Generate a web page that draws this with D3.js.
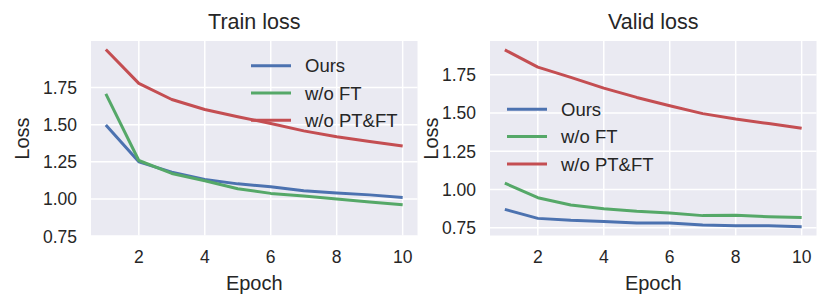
<!DOCTYPE html>
<html>
<head>
<meta charset="utf-8">
<script src="https://cdn.jsdelivr.net/npm/d3@7"></script>
<style>
  body { margin: 0; background: #fff; }
  text { font-family: "Liberation Sans", Arial, sans-serif; fill: #262626; }
</style>
</head>
<body>
<div id="chart"></div>
<script>
// data
var epochs = [1, 2, 3, 4, 5, 6, 7, 8, 9, 10];
var seriesNames = ["Ours", "w/o FT", "w/o PT&FT"];
var colors = ["#4C72B0", "#55A868", "#C44E52"];

var trainOurs = [1.497, 1.25, 1.181, 1.132, 1.102, 1.082, 1.055, 1.041, 1.028, 1.01];
var trainNoFT = [1.707, 1.259, 1.172, 1.123, 1.069, 1.038, 1.02, 1.0, 0.98, 0.962];
var trainNoPTFT = [2.005, 1.777, 1.669, 1.602, 1.553, 1.508, 1.458, 1.418, 1.387, 1.357];

var validOurs = [0.87, 0.811, 0.798, 0.791, 0.78, 0.78, 0.767, 0.763, 0.763, 0.757];
var validNoFT = [1.041, 0.946, 0.898, 0.874, 0.857, 0.846, 0.829, 0.831, 0.822, 0.816];
var validNoPTFT = [1.913, 1.80, 1.733, 1.663, 1.602, 1.548, 1.496, 1.461, 1.431, 1.40];

var xTicks = [2, 4, 6, 8, 10];
var yTicks = [0.75, 1.00, 1.25, 1.50, 1.75];

var w = 830, h = 308;
var svg = d3.select("#chart").append("svg")
  .attr("width", w).attr("height", h);

function drawPanel(opts) {
  var x = d3.scaleLinear().domain([0.55, 10.45]).range([opts.left, opts.right]);
  var y = d3.scaleLinear().domain(opts.ydom).range([opts.bottom, opts.top]);
  var g = svg.append("g");

  g.append("rect")
    .attr("x", opts.left).attr("y", opts.top)
    .attr("width", opts.right - opts.left)
    .attr("height", opts.bottom - opts.top)
    .attr("fill", "#EAEAF2");

  // grid
  g.selectAll(".gx").data(xTicks).enter().append("line")
    .attr("x1", function(d) { return x(d); }).attr("x2", function(d) { return x(d); })
    .attr("y1", opts.top).attr("y2", opts.bottom)
    .attr("stroke", "#fff").attr("stroke-width", 1.5);
  g.selectAll(".gy").data(yTicks).enter().append("line")
    .attr("x1", opts.left).attr("x2", opts.right)
    .attr("y1", function(d) { return y(d); }).attr("y2", function(d) { return y(d); })
    .attr("stroke", "#fff").attr("stroke-width", 1.5);

  // tick labels
  g.selectAll(".tx").data(xTicks).enter().append("text")
    .attr("x", function(d) { return x(d); })
    .attr("y", 262.5)
    .attr("text-anchor", "middle")
    .attr("font-size", "17.5px")
    .text(function(d) { return d; });
  g.selectAll(".ty").data(yTicks).enter().append("text")
    .attr("x", opts.left - 14)
    .attr("y", function(d) { return y(d); })
    .attr("dy", "0.36em")
    .attr("text-anchor", "end")
    .attr("font-size", "17.5px")
    .text(function(d) { return d3.format(".2f")(d); });

  // lines
  var line = d3.line()
    .x(function(d, i) { return x(epochs[i]); })
    .y(function(d) { return y(d); });
  opts.series.forEach(function(s, i) {
    g.append("path")
      .attr("d", line(s))
      .attr("fill", "none")
      .attr("stroke", colors[i])
      .attr("stroke-width", 3)
      .attr("stroke-linejoin", "round");
  });

  // labels
  var cx = (opts.left + opts.right) / 2;
  g.append("text").attr("x", cx).attr("y", 29)
    .attr("text-anchor", "middle").attr("font-size", "21.5px")
    .text(opts.title);
  g.append("text").attr("x", cx).attr("y", 290)
    .attr("text-anchor", "middle").attr("font-size", "20px")
    .text("Epoch");
  g.append("text")
    .attr("transform", "translate(" + opts.ylabelX + "," + 138.5 + ") rotate(-90)")
    .attr("text-anchor", "middle").attr("font-size", "20px")
    .text("Loss");

  // legend
  var leg = g.append("g");
  seriesNames.forEach(function(n, i) {
    var ly = opts.legY + i * 27.3;
    leg.append("line")
      .attr("x1", opts.legX).attr("x2", opts.legX + 40)
      .attr("y1", ly).attr("y2", ly)
      .attr("stroke", colors[i]).attr("stroke-width", 3);
    leg.append("text")
      .attr("x", opts.legX + 54).attr("y", ly)
      .attr("dy", "0.36em")
      .attr("font-size", "18.5px")
      .text(n);
  });
}

drawPanel({
  title: "Train loss",
  left: 91, right: 417.5, top: 41, bottom: 235.5,
  ydom: [0.755, 2.062],
  series: [trainOurs, trainNoFT, trainNoPTFT],
  ylabelX: 28.5,
  legX: 251, legY: 65.7
});

drawPanel({
  title: "Valid loss",
  left: 490, right: 816.5, top: 41, bottom: 235.5,
  ydom: [0.699, 1.971],
  series: [validOurs, validNoFT, validNoPTFT],
  ylabelX: 438,
  legX: 507, legY: 109.3
});
</script>
</body>
</html>
